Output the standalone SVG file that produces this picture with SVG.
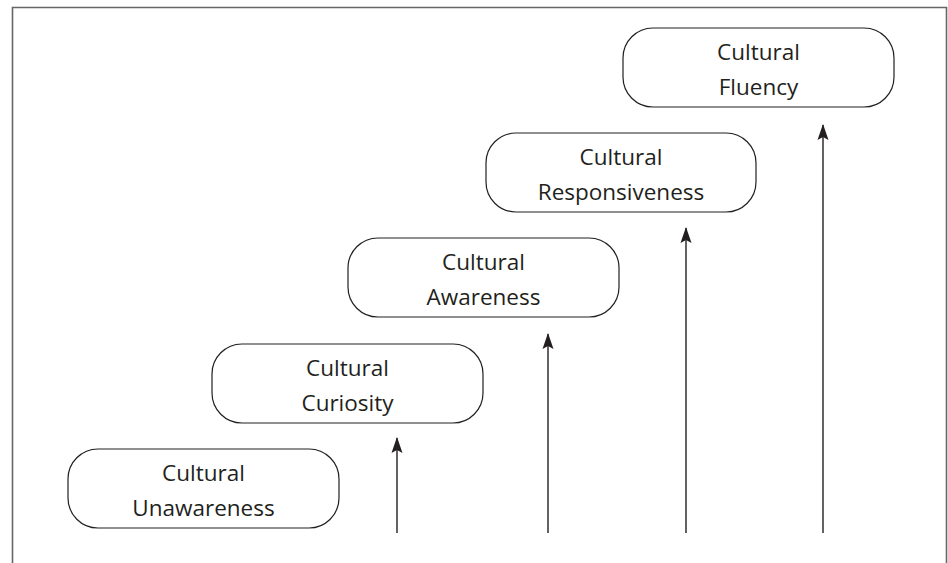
<svg xmlns="http://www.w3.org/2000/svg" width="948" height="563" viewBox="0 0 948 563">
<defs>
<marker id="ah" viewBox="0 0 16 12" refX="15" refY="6" markerWidth="16" markerHeight="12" markerUnits="userSpaceOnUse" orient="auto">
<path d="M16,6 L0,0.5 L3,6 L0,11.5 Z" fill="#231f20"/>
</marker>
<style>
.box{fill:#fff;stroke:#231f20;stroke-width:1.2}
.t{font-family:"Open Sans","Liberation Sans",sans-serif;font-size:22.5px;fill:#231f20;text-anchor:middle}
.c{stroke:#231f20;stroke-width:1.4;fill:none}
</style>
</defs>
<rect width="948" height="563" fill="#fff"/>
<path d="M12.5,563 V7.5 H946.5 V563" fill="none" stroke="#666" stroke-width="1.6"/>
<g id="connectors">
<line class="c" x1="397" y1="533" x2="397" y2="438" marker-end="url(#ah)"/>
<line class="c" x1="548" y1="533" x2="548" y2="334" marker-end="url(#ah)"/>
<line class="c" x1="686" y1="533" x2="686" y2="228" marker-end="url(#ah)"/>
<line class="c" x1="823" y1="533" x2="823" y2="125" marker-end="url(#ah)"/>
</g>
<g id="n1"><rect class="box" x="68" y="449" width="271" height="79" rx="30"/><text class="t" x="203.5" y="481">Cultural</text><text class="t" x="203.5" y="516">Unawareness</text></g>
<g id="n2"><rect class="box" x="212" y="344" width="271" height="79" rx="30"/><text class="t" x="347.5" y="376">Cultural</text><text class="t" x="347.5" y="411">Curiosity</text></g>
<g id="n3"><rect class="box" x="348" y="238" width="271" height="79" rx="30"/><text class="t" x="483.5" y="270">Cultural</text><text class="t" x="483.5" y="305">Awareness</text></g>
<g id="n4"><rect class="box" x="486" y="133" width="270" height="79" rx="30"/><text class="t" x="621" y="165">Cultural</text><text class="t" x="621" y="200">Responsiveness</text></g>
<g id="n5"><rect class="box" x="623" y="28" width="271" height="79" rx="30"/><text class="t" x="758.5" y="60">Cultural</text><text class="t" x="758.5" y="95">Fluency</text></g>
</svg>
